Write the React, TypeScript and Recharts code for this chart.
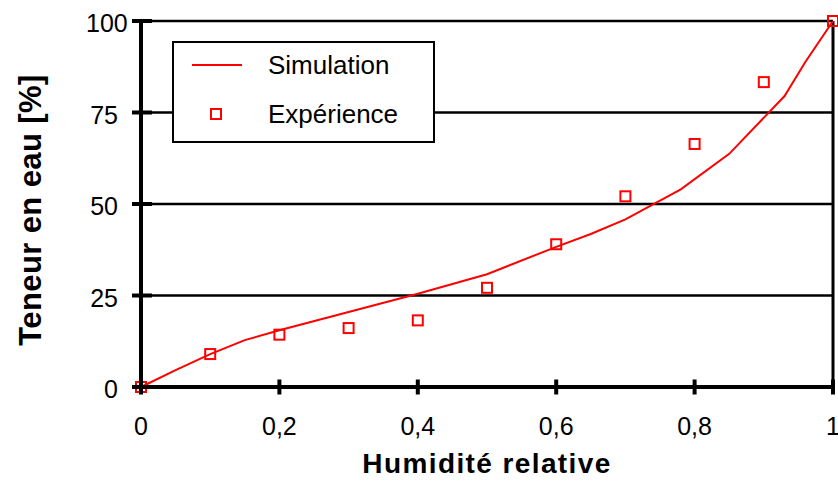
import { ComposedChart, Line, Scatter, XAxis, YAxis, CartesianGrid, ReferenceLine, Legend, Label } from "recharts";

// humidité relative / teneur en eau (%)
const expHumidity = [0, 0.1, 0.2, 0.3, 0.4, 0.5, 0.6, 0.7, 0.8, 0.9, 1];
const expWater = [0, 9.0, 14.3, 16.1, 18.2, 27.1, 39.0, 52.1, 66.4, 83.3, 100];

const simHumidity = [0, 0.05, 0.1, 0.15, 0.2, 0.3, 0.4, 0.5, 0.6, 0.65, 0.7, 0.78, 0.85, 0.93, 0.96, 1];
const simWater = [0, 4.6, 9, 12.8, 15.5, 20.5, 25.5, 30.8, 38.3, 41.8, 45.8, 54, 63.7, 79.5, 88.8, 100];

const xTicks = [0, 0.2, 0.4, 0.6, 0.8, 1];
const yTicks = [0, 25, 50, 75, 100];

const expData = expHumidity.map((h, i) => ({ h, w: expWater[i] }));
const simData = simHumidity.map((h, i) => ({ h, w: simWater[i] }));

const FONT = "'Liberation Sans', Arial, sans-serif";
const RED = "#ff0000";

const YTick = (props: any) => {
  const { x, y, payload } = props;
  const label = String(payload.value);
  // Excel-style: right aligned column, but "100" spills over to the right
  const wide = label.length > 2;
  return (
    <g>
      <line x1={x - 9} x2={x + 11} y1={y} y2={y} stroke="#000" strokeWidth={4} />
      <text
        x={wide ? x - 55 : x - 23}
        y={y + 2.5}
        dy="0.355em"
        textAnchor={wide ? "start" : "end"}
        fontSize={25}
        fontFamily={FONT}
        fill="#000"
      >
        {label}
      </text>
    </g>
  );
};

const XTick = (props: any) => {
  const { x, y, payload } = props;
  return (
    <g>
      <line x1={x} x2={x} y1={y - 7.5} y2={y + 7.5} stroke="#000" strokeWidth={4} />
      <text x={x} y={y + 30} dy="0.72em" textAnchor="middle" fontSize={25} fontFamily={FONT} fill="#000">
        {String(payload.value).replace(".", ",")}
      </text>
    </g>
  );
};

const YTitle = (props: any) => {
  const vb = props.viewBox;
  const cx = vb.x + 30;
  const cy = vb.y + vb.height / 2 + 6;
  return (
    <text
      x={cx}
      y={cy}
      transform={`rotate(-90, ${cx}, ${cy})`}
      textAnchor="middle"
      dominantBaseline="central"
      fontSize={31}
      fontWeight="bold"
      fontFamily={FONT}
      letterSpacing={0.4}
      fill="#000"
    >
      Teneur en eau [%]
    </text>
  );
};

const Square = (props: any) => {
  const { cx, cy } = props;
  if (cx == null || cy == null) return null;
  return <rect x={cx - 5} y={cy - 5} width={10} height={10} fill="none" stroke={RED} strokeWidth={2} />;
};

const LegendBox = () => (
  <svg width={259} height={98} style={{ display: "block" }}>
    <line x1={18} x2={68} y1={22} y2={22} stroke={RED} strokeWidth={2} />
    <text x={94} y={31} fontSize={26} fontFamily={FONT} fill="#000">
      Simulation
    </text>
    <rect x={37} y={66} width={10} height={10} fill="none" stroke={RED} strokeWidth={2} />
    <text x={94} y={80} fontSize={26} fontFamily={FONT} fill="#000">
      Expérience
    </text>
  </svg>
);

export default function App() {
  return (
    <div style={{ position: "absolute", left: 0, top: 0, background: "#fff" }}>
      <ComposedChart width={838} height={481} margin={{ top: 21, right: 5, bottom: 0, left: 0 }}>
        <CartesianGrid vertical={false} stroke="#000" strokeWidth={2.5} />
        <XAxis
          dataKey="h"
          type="number"
          domain={[0, 1]}
          ticks={xTicks}
          height={94}
          tickSize={0}
          tickMargin={0}
          tickLine={false}
          tick={<XTick />}
          axisLine={{ stroke: "#000", strokeWidth: 4 }}
        >
          <Label
            value="Humidité relative"
            position="insideBottom"
            offset={8}
            style={{ fontSize: 28, fontWeight: "bold", fontFamily: FONT, fill: "#000", letterSpacing: 1.4 }}
          />
        </XAxis>
        <YAxis
          dataKey="w"
          type="number"
          domain={[0, 100]}
          ticks={yTicks}
          width={141}
          tickSize={0}
          tickMargin={0}
          tickLine={false}
          tick={<YTick />}
          axisLine={{ stroke: "#000", strokeWidth: 4 }}
        >
          <Label content={<YTitle />} />
        </YAxis>
        <ReferenceLine x={1} stroke="#000" strokeWidth={3} />
        <Line
          data={simData}
          dataKey="w"
          type="linear"
          stroke={RED}
          strokeWidth={2}
          dot={false}
          activeDot={false}
          isAnimationActive={false}
          legendType="line"
          name="Simulation"
        />
        <Scatter data={expData} dataKey="w" shape={<Square />} isAnimationActive={false} name="Expérience" />
        <Legend
          layout="vertical"
          align="center"
          verticalAlign="middle"
          content={<LegendBox />}
          wrapperStyle={{
            left: 172,
            top: 41,
            width: 263,
            height: 102,
            boxSizing: "border-box",
            border: "2px solid #000",
            background: "#fff",
          }}
        />
      </ComposedChart>
    </div>
  );
}
